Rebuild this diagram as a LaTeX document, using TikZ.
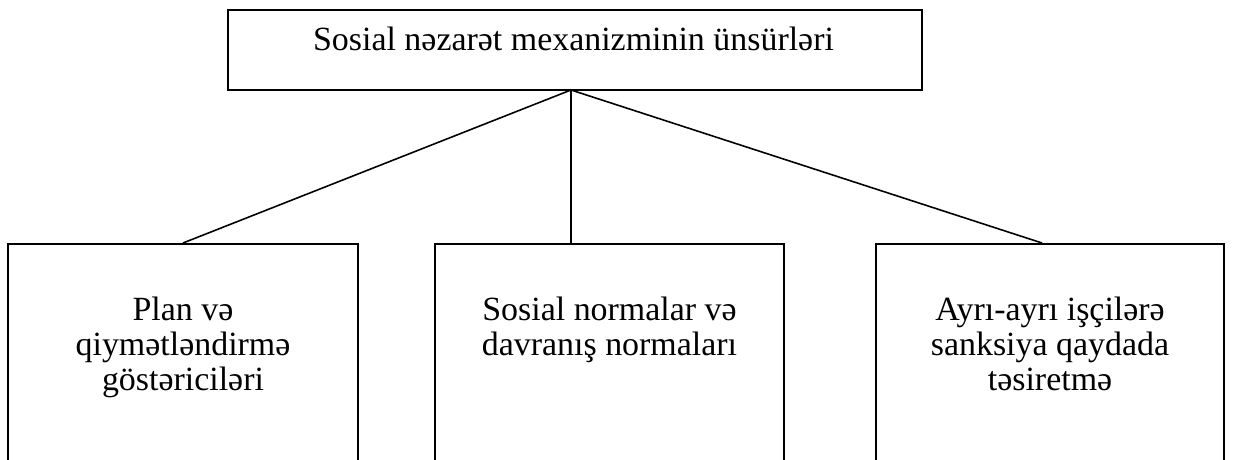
\documentclass[tikz,border=0pt]{standalone}
\usepackage{fontspec}
\setmainfont{Liberation Serif}
\usetikzlibrary{positioning}

\begin{document}
\begin{tikzpicture}[scale=1,
  box/.style={shape=rectangle,draw,line width=0.9pt,inner sep=0pt},
  lbl/.style={align=center,inner sep=0pt,font=\fontsize{19.3}{19.9}\selectfont}]
  \useasboundingbox (0,0) rectangle (24.66,9.18);
  \clip (0,0) rectangle (24.66,9.18);

  \node[box,minimum width=13.88cm,minimum height=1.6cm] (top) at (11.5,8.18) {};
  \node[lbl,anchor=base] (toptext) at (11.47,8.16) {Sosial nəzarət mexanizminin ünsürləri};

  \node[box,minimum width=7.0cm,minimum height=6cm,anchor=north] (plan) at (3.66,4.32) {};
  \node[box,minimum width=6.98cm,minimum height=6cm,anchor=north] (norm) at (12.19,4.32) {};
  \node[box,minimum width=6.96cm,minimum height=6cm,anchor=north] (sank) at (21.0,4.32) {};

  \node[lbl,anchor=north] (plantext) at (3.66,3.24) {Plan və\\qiymətləndirmə\\göstəriciləri};
  \node[lbl,anchor=north] (normtext) at (12.19,3.24) {Sosial normalar və\\davranış normaları};
  \node[lbl,anchor=north] (sanktext) at (21.0,3.24) {Ayrı-ayrı işçilərə\\sanksiya qaydada\\təsiretmə};

  \coordinate (fork) at (11.42,7.38);
  \draw[line width=0.9pt] (fork) -- (plan.north);
  \draw[line width=0.9pt] (fork) -- (fork |- norm.north);
  \draw[line width=0.9pt] (fork) -- ([xshift=-0.16cm]sank.north);
\end{tikzpicture}
\end{document}
